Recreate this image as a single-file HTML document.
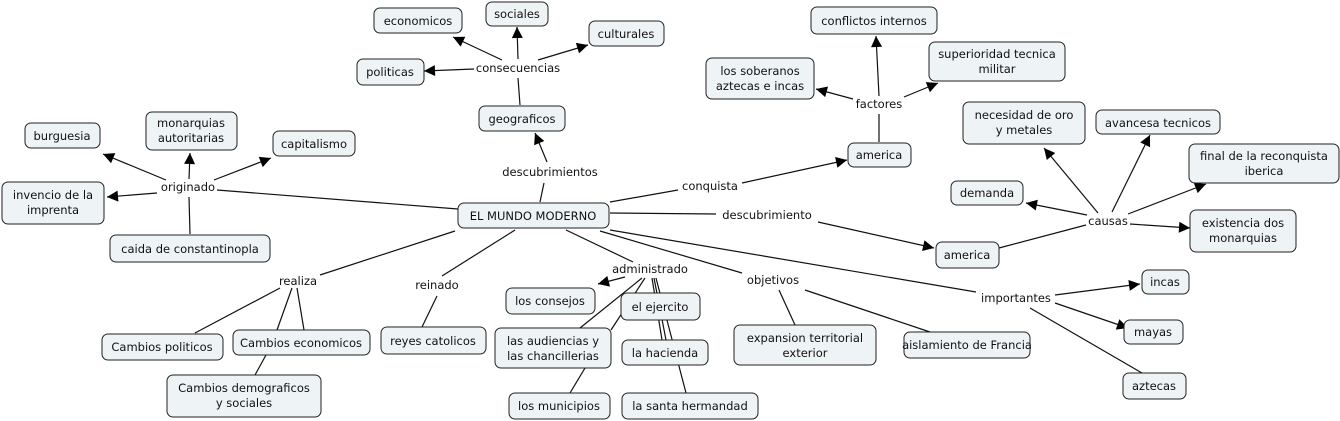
<!DOCTYPE html>
<html><head><meta charset="utf-8"><style>
html,body{margin:0;padding:0;background:#fff;}
svg{display:block;}
text{font-family:"DejaVu Sans","Liberation Sans",sans-serif;font-size:11.5px;fill:#111;}
.n{fill:#eef3f6;stroke:#222;stroke-width:1;}
line{stroke:#111;stroke-width:1.2;}
.a{marker-end:url(#ar);}
</style></head><body>
<svg width="1340" height="421" viewBox="0 0 1340 421" xmlns="http://www.w3.org/2000/svg">
<defs><marker id="ar" viewBox="0 0 10 10" refX="10" refY="5" markerWidth="13" markerHeight="11" markerUnits="userSpaceOnUse" orient="auto"><path d="M0,0 L10,5 L0,10 z" fill="#000"/></marker></defs>
<g>
<!-- consecuencias -->
<line x1="520" y1="105" x2="518" y2="78"/>
<line class="a" x1="502" y1="60" x2="453" y2="37"/>
<line class="a" x1="518" y1="59" x2="517" y2="27"/>
<line class="a" x1="538" y1="60" x2="588" y2="45"/>
<line class="a" x1="474" y1="69" x2="424" y2="71"/>
<!-- descubrimientos -->
<line x1="540" y1="202" x2="544" y2="183"/>
<line class="a" x1="547" y1="162" x2="535" y2="133"/>
<!-- factores -->
<line x1="879" y1="142" x2="879" y2="114"/>
<line class="a" x1="879" y1="96" x2="876" y2="36"/>
<line class="a" x1="904" y1="97" x2="938" y2="83"/>
<line class="a" x1="853" y1="99" x2="816" y2="89"/>
<!-- conquista -->
<line x1="610" y1="202" x2="678" y2="190"/>
<line class="a" x1="742" y1="183" x2="847" y2="160"/>
<!-- descubrimiento -->
<line x1="610" y1="213" x2="716" y2="214"/>
<line class="a" x1="818" y1="222" x2="934" y2="248"/>
<!-- causas -->
<line x1="999" y1="248" x2="1086" y2="225"/>
<line class="a" x1="1098" y1="213" x2="1044" y2="148"/>
<line class="a" x1="1112" y1="212" x2="1150" y2="135"/>
<line class="a" x1="1128" y1="214" x2="1206" y2="184"/>
<line class="a" x1="1087" y1="215" x2="1026" y2="203"/>
<line class="a" x1="1130" y1="224" x2="1190" y2="228"/>
<!-- importantes -->
<line x1="610" y1="230" x2="976" y2="292"/>
<line class="a" x1="1055" y1="295" x2="1140" y2="284"/>
<line class="a" x1="1055" y1="303" x2="1128" y2="328"/>
<line x1="1030" y1="308" x2="1142" y2="373"/>
<!-- originado -->
<line x1="458" y1="209" x2="217" y2="190"/>
<line class="a" x1="166" y1="180" x2="103" y2="154"/>
<line class="a" x1="189" y1="179" x2="190" y2="153"/>
<line class="a" x1="214" y1="180" x2="271" y2="158"/>
<line class="a" x1="157" y1="193" x2="107" y2="197"/>
<line x1="190" y1="234" x2="189" y2="197"/>
<!-- realiza -->
<line x1="455" y1="231" x2="320" y2="275"/>
<line x1="280" y1="288" x2="195" y2="333"/>
<line x1="292" y1="288" x2="277" y2="330"/>
<line x1="297" y1="288" x2="304" y2="330"/>
<line x1="266" y1="355" x2="255" y2="375"/>
<!-- reinado -->
<line x1="515" y1="230" x2="442" y2="276"/>
<line x1="437" y1="296" x2="422" y2="327"/>
<!-- administrado -->
<line x1="566" y1="230" x2="633" y2="262"/>
<line class="a" x1="625" y1="277" x2="598" y2="284"/>
<line x1="642" y1="278" x2="580" y2="328"/>
<line x1="645" y1="278" x2="611" y2="330"/>
<line x1="652" y1="278" x2="662" y2="340"/>
<line x1="654" y1="278" x2="666" y2="340"/>
<line x1="656" y1="278" x2="686" y2="393"/>
<line x1="585" y1="368" x2="570" y2="393"/>
<!-- objetivos -->
<line x1="600" y1="231" x2="742" y2="273"/>
<line x1="779" y1="290" x2="795" y2="325"/>
<line x1="805" y1="290" x2="930" y2="332"/>
</g>
<g>
<rect class="n" x="374" y="8" width="88" height="25" rx="6"/><text x="418" y="25" text-anchor="middle">economicos</text>
<rect class="n" x="486" y="2" width="62" height="24" rx="6"/><text x="517" y="18" text-anchor="middle">sociales</text>
<rect class="n" x="589" y="21" width="75" height="25" rx="6"/><text x="626" y="38" text-anchor="middle">culturales</text>
<rect class="n" x="357" y="59" width="67" height="26" rx="6"/><text x="390" y="76" text-anchor="middle">politicas</text>
<rect class="n" x="479" y="106" width="86" height="25" rx="6"/><text x="522" y="123" text-anchor="middle">geograficos</text>
<rect class="n" x="811" y="7" width="126" height="27" rx="6"/><text x="874" y="25" text-anchor="middle">conflictos internos</text>
<rect class="n" x="929" y="42" width="136" height="39" rx="6"/><text x="997" y="58" text-anchor="middle">superioridad tecnica</text><text x="997" y="73" text-anchor="middle">militar</text>
<rect class="n" x="706" y="58" width="108" height="41" rx="6"/><text x="760" y="75" text-anchor="middle">los soberanos</text><text x="760" y="90" text-anchor="middle">aztecas e incas</text>
<rect class="n" x="848" y="143" width="63" height="24" rx="6"/><text x="879" y="159" text-anchor="middle">america</text>
<rect class="n" x="963" y="102" width="122" height="42" rx="6"/><text x="1024" y="119" text-anchor="middle">necesidad de oro</text><text x="1024" y="134" text-anchor="middle">y metales</text>
<rect class="n" x="1096" y="110" width="124" height="24" rx="6"/><text x="1158" y="127" text-anchor="middle">avancesa tecnicos</text>
<rect class="n" x="1189" y="144" width="150" height="39" rx="6"/><text x="1264" y="160" text-anchor="middle">final de la reconquista</text><text x="1264" y="175" text-anchor="middle">iberica</text>
<rect class="n" x="951" y="181" width="72" height="24" rx="6"/><text x="987" y="197" text-anchor="middle">demanda</text>
<rect class="n" x="1190" y="210" width="106" height="42" rx="6"/><text x="1243" y="227" text-anchor="middle">existencia dos</text><text x="1243" y="242" text-anchor="middle">monarquias</text>
<rect class="n" x="936" y="242" width="63" height="26" rx="6"/><text x="967" y="259" text-anchor="middle">america</text>
<rect class="n" x="1142" y="270" width="47" height="24" rx="6"/><text x="1165" y="286" text-anchor="middle">incas</text>
<rect class="n" x="1124" y="320" width="59" height="24" rx="6"/><text x="1153" y="336" text-anchor="middle">mayas</text>
<rect class="n" x="1123" y="373" width="63" height="26" rx="6"/><text x="1154" y="390" text-anchor="middle">aztecas</text>
<rect class="n" x="25" y="123" width="75" height="25" rx="6"/><text x="62" y="140" text-anchor="middle">burguesia</text>
<rect class="n" x="146" y="112" width="91" height="38" rx="6"/><text x="191" y="127" text-anchor="middle">monarquias</text><text x="191" y="142" text-anchor="middle">autoritarias</text>
<rect class="n" x="273" y="131" width="82" height="25" rx="6"/><text x="314" y="148" text-anchor="middle">capitalismo</text>
<rect class="n" x="2" y="182" width="102" height="42" rx="6"/><text x="53" y="199" text-anchor="middle">invencio de la</text><text x="53" y="214" text-anchor="middle">imprenta</text>
<rect class="n" x="110" y="235" width="160" height="27" rx="6"/><text x="190" y="253" text-anchor="middle">caida de constantinopla</text>
<rect class="n" x="458" y="203" width="151" height="25" rx="6"/><text x="533" y="220" text-anchor="middle">EL MUNDO MODERNO</text>
<rect class="n" x="102" y="334" width="121" height="26" rx="6"/><text x="162" y="351" text-anchor="middle">Cambios politicos</text>
<rect class="n" x="233" y="330" width="137" height="25" rx="6"/><text x="301" y="347" text-anchor="middle">Cambios economicos</text>
<rect class="n" x="167" y="375" width="154" height="42" rx="6"/><text x="244" y="392" text-anchor="middle">Cambios demograficos</text><text x="244" y="407" text-anchor="middle">y sociales</text>
<rect class="n" x="381" y="327" width="105" height="27" rx="6"/><text x="433" y="345" text-anchor="middle">reyes catolicos</text>
<rect class="n" x="506" y="288" width="89" height="26" rx="6"/><text x="550" y="305" text-anchor="middle">los consejos</text>
<rect class="n" x="621" y="293" width="79" height="27" rx="6"/><text x="660" y="311" text-anchor="middle">el ejercito</text>
<rect class="n" x="495" y="328" width="116" height="40" rx="6"/><text x="553" y="345" text-anchor="middle">las audiencias y</text><text x="553" y="360" text-anchor="middle">las chancillerias</text>
<rect class="n" x="622" y="340" width="86" height="25" rx="6"/><text x="665" y="357" text-anchor="middle">la hacienda</text>
<rect class="n" x="509" y="393" width="101" height="26" rx="6"/><text x="559" y="410" text-anchor="middle">los municipios</text>
<rect class="n" x="622" y="393" width="136" height="26" rx="6"/><text x="690" y="410" text-anchor="middle">la santa hermandad</text>
<rect class="n" x="734" y="325" width="142" height="40" rx="6"/><text x="805" y="342" text-anchor="middle">expansion territorial</text><text x="805" y="357" text-anchor="middle">exterior</text>
<rect class="n" x="904" y="332" width="126" height="26" rx="6"/><text x="967" y="349" text-anchor="middle">aislamiento de Francia</text>
</g>
<g text-anchor="middle">
<text x="518" y="72">consecuencias</text>
<text x="879" y="108">factores</text>
<text x="550" y="176">descubrimientos</text>
<text x="710" y="190">conquista</text>
<text x="767" y="219">descubrimiento</text>
<text x="1108" y="225">causas</text>
<text x="188" y="191">originado</text>
<text x="298" y="285">realiza</text>
<text x="437" y="289">reinado</text>
<text x="650" y="273">administrado</text>
<text x="773" y="284">objetivos</text>
<text x="1016" y="302">importantes</text>
</g>
</svg>
</body></html>
